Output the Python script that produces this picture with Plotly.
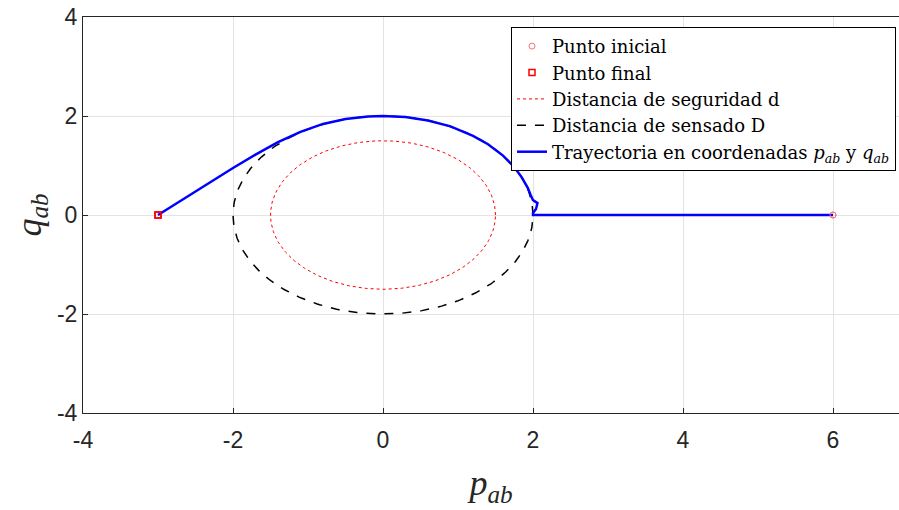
import numpy as np
import plotly.graph_objects as go

# ---- data ----
traj_p = [-3.0, -2.5, -2.0, -1.7, -1.4, -1.1, -0.8, -0.5, -0.2, 0.0, 0.3, 0.6, 0.9,
          1.2, 1.4, 1.6, 1.75, 1.85, 1.93, 1.97, 2.0, 2.06, 2.04, 2.0, 2.0, 6.0]
traj_q = [0.0, 0.48, 0.95, 1.22, 1.47, 1.68, 1.84, 1.94, 1.99, 2.0, 1.98, 1.91, 1.79,
          1.60, 1.43, 1.20, 0.97, 0.76, 0.55, 0.40, 0.30, 0.24, 0.12, 0.04, 0.0, 0.0]
punto_inicial = [6.0, 0.0]
punto_final = [-3.0, 0.0]
radio_seguridad_d = 1.5
radio_sensado_D = 2.0
x_ticks = [-4, -2, 0, 2, 4, 6]
y_ticks = [-4, -2, 0, 2, 4]

theta = np.linspace(0, 2 * np.pi, 361)

fig = go.Figure()
fig.add_trace(go.Scatter(x=[punto_inicial[0]], y=[punto_inicial[1]], mode="markers",
                         name="Punto inicial",
                         marker=dict(symbol="circle-open", size=6, color="rgba(255,110,110,1)",
                                     line=dict(width=1))))
fig.add_trace(go.Scatter(x=[punto_final[0]], y=[punto_final[1]], mode="markers",
                         name="Punto final",
                         marker=dict(symbol="square-open", size=6, color="red",
                                     line=dict(width=1.5))))
fig.add_trace(go.Scatter(x=radio_seguridad_d * np.cos(theta), y=radio_seguridad_d * np.sin(theta),
                         mode="lines", name="Distancia de seguridad d",
                         line=dict(color="red", width=1, dash="dot")))
fig.add_trace(go.Scatter(x=radio_sensado_D * np.cos(theta), y=radio_sensado_D * np.sin(theta),
                         mode="lines", name="Distancia de sensado D",
                         line=dict(color="black", width=1.5, dash="dash")))
fig.add_trace(go.Scatter(x=traj_p, y=traj_q, mode="lines",
                         name="Trayectoria en coordenadas <i>p</i><sub><i>ab</i></sub> y <i>q</i><sub><i>ab</i></sub>",
                         line=dict(color="#0000ff", width=2.5)))

# re-draw markers on top of trajectory (without legend)
fig.add_trace(go.Scatter(x=[punto_inicial[0]], y=[punto_inicial[1]], mode="markers", showlegend=False,
                         marker=dict(symbol="circle-open", size=6, color="rgba(255,110,110,1)",
                                     line=dict(width=1))))
fig.add_trace(go.Scatter(x=[punto_final[0]], y=[punto_final[1]], mode="markers", showlegend=False,
                         marker=dict(symbol="square-open", size=6, color="red",
                                     line=dict(width=1.5))))

axis_common = dict(showgrid=True, gridcolor="#e3e3e3", gridwidth=1, zeroline=False,
                   showline=True, linecolor="#262626", linewidth=1,
                   ticks="inside", ticklen=5, tickcolor="#262626",
                   tickfont=dict(family="Liberation Sans, Arial", size=23, color="#262626"))

fig.update_xaxes(range=[-4, -4 + 816 / 75], tickvals=x_ticks, ticktext=[str(v) for v in x_ticks],
                 mirror=True, ticklabelstandoff=6,
                 title=dict(text="<i>p</i><sub><i>ab</i></sub>", standoff=18,
                            font=dict(family="Liberation Serif, serif", size=36, color="#262626")),
                 **axis_common)
fig.update_yaxes(range=[-4, 4], tickvals=y_ticks, ticktext=[str(v) for v in y_ticks],
                 mirror=False,
                 title=dict(text="<i>q</i><sub><i>ab</i></sub>", standoff=4,
                            font=dict(family="Liberation Serif, serif", size=36, color="#262626")),
                 **axis_common)

fig.update_layout(
    width=899, height=510,
    margin=dict(l=83, r=0, t=17, b=97),
    paper_bgcolor="white", plot_bgcolor="white",
    legend=dict(x=0.5245, y=0.975, xanchor="left", yanchor="top",
                bgcolor="white", bordercolor="black", borderwidth=1,
                font=dict(family="DejaVu Serif, serif", size=18, color="black"),
                tracegroupgap=0, itemwidth=30),
    showlegend=True,
)

fig.write_html("out.html")
